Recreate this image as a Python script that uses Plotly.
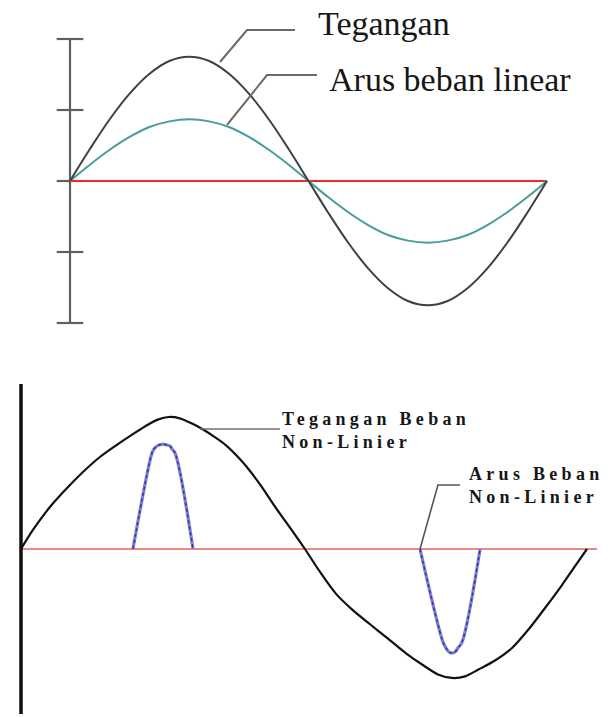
import plotly.graph_objects as go

# ---------------- data: linear load (upper panel) ----------------
# phase angle in degrees, sampled every 15 degrees
angle_lin = [0, 15, 30, 45, 60, 75, 90, 105, 120, 135, 150, 165, 180,
             195, 210, 225, 240, 255, 270, 285, 300, 315, 330, 345, 360]
tegangan = [0.0, 0.45, 0.87, 1.23, 1.51, 1.69, 1.75, 1.69, 1.51, 1.23, 0.87, 0.45, 0.0,
            -0.45, -0.87, -1.23, -1.51, -1.69, -1.75, -1.69, -1.51, -1.23, -0.87, -0.45, 0.0]
arus_linear = [0.0, 0.23, 0.44, 0.62, 0.76, 0.84, 0.87, 0.84, 0.76, 0.62, 0.44, 0.23, 0.0,
               -0.23, -0.44, -0.62, -0.76, -0.84, -0.87, -0.84, -0.76, -0.62, -0.44, -0.23, 0.0]
axis_ticks_lin = [-2, -1, 0, 1, 2]

# ---------------- data: non-linear load (lower panel) ----------------
angle_v_nl = [0, 7.6, 18.4, 29.3, 39.4, 50.2, 61.1, 71.2, 80.1, 87, 94, 101, 108.8,
              115.8, 123, 130.4, 141.2, 152.0, 162.2, 173.0, 180.6, 190.2, 200.4, 211.2,
              222.0, 233, 244.9, 255.1, 265.2, 274.1, 282.4, 290.7, 301.5, 312.3, 322.5,
              333.3, 344.1, 352.4, 360]
tegangan_nl = [0, 0.144, 0.318, 0.462, 0.583, 0.697, 0.790, 0.870, 0.938, 0.980, 1.0, 0.99, 0.950,
               0.905, 0.85, 0.785, 0.655, 0.49, 0.31, 0.13, 0, -0.174, -0.340, -0.465,
               -0.570, -0.675, -0.790, -0.875, -0.950, -0.977, -0.965, -0.915, -0.845, -0.750, -0.614,
               -0.447, -0.273, -0.130, 0]

angle_i_pos = [71.2, 83.3, 84.6, 86.5, 88.4, 90.3, 92.2, 94.8, 96.0, 98.0, 109.4]
arus_pos = [0, 0.727, 0.758, 0.780, 0.790, 0.795, 0.790, 0.780, 0.758, 0.727, 0]
angle_i_neg = [253.8, 268.4, 270.3, 272.2, 274.1, 276.0, 277.9, 280.5, 292.0]
arus_neg = [0, -0.705, -0.750, -0.780, -0.788, -0.780, -0.750, -0.705, 0]
axis_span_nl = [-1.25, 1.25]
zero_end_nl = 366.4

# ---------------- callouts ----------------
lead_teg_x, lead_teg_y = [113.2, 133.6, 169.8], [1.676, 2.127, 2.127]
lead_arus_x, lead_arus_y = [118.5, 148.7, 186.4], [0.789, 1.493, 1.493]
lead_teg_nl_x, lead_teg_nl_y = [113.9, 164.7], [0.909, 0.909]
lead_arus_nl_x, lead_arus_nl_y = [253.8, 265.2, 279.2], [0.0, 0.485, 0.485]

# ---------------- layout geometry (pixels of the 608 x 717 canvas) ----------------
W, H = 608, 717
SPLIT = 340                     # boundary between the two panels
# upper panel: origin pixel and scale
X0_T, PXDEG_T, Y0_T, PXU_T = 70, 477 / 360, 181, 71
# lower panel
X0_B, PXDEG_B, Y0_B, PXU_B = 21, 566 / 360, 549, 132

xr_top = [-X0_T / PXDEG_T, (W - X0_T) / PXDEG_T]
yr_top = [(Y0_T - SPLIT) / PXU_T, Y0_T / PXU_T]
xr_bot = [-X0_B / PXDEG_B, (W - X0_B) / PXDEG_B]
yr_bot = [(Y0_B - H) / PXU_B, (Y0_B - SPLIT) / PXU_B]

fig = go.Figure()

def line(x, y, color, width, xa="x", ya="y", dash=None, shape="linear", smoothing=1):
    ln = dict(color=color, width=width, dash=dash, shape=shape)
    if shape == "spline":
        ln["smoothing"] = smoothing
    fig.add_trace(go.Scatter(x=x, y=y, mode="lines", xaxis=xa, yaxis=ya, line=ln,
                             hoverinfo="skip", showlegend=False))

# ---- upper panel ----
line([0, 0], [axis_ticks_lin[0], axis_ticks_lin[-1]], "#5f5f5f", 2.2)
fig.add_trace(go.Scatter(x=[0] * len(axis_ticks_lin), y=axis_ticks_lin, mode="markers",
                         marker=dict(symbol="line-ew", size=19, color="#5f5f5f",
                                     line=dict(color="#5f5f5f", width=2.2)),
                         hoverinfo="skip", showlegend=False))
line([0, 360], [0, 0], "#ee2b2b", 2)
line(angle_lin, arus_linear, "#479c9c", 2, shape="spline")
line(angle_lin, tegangan, "#404040", 2, shape="spline")
line(lead_teg_x, lead_teg_y, "#6a6a6a", 2)
line(lead_arus_x, lead_arus_y, "#6a6a6a", 2)

# ---- lower panel ----
line([0, zero_end_nl], [0, 0], "#e58a84", 2, "x2", "y2")
line([0, 0], axis_span_nl, "#111111", 3.5, "x2", "y2")
for ax, ay in ((angle_i_pos, arus_pos), (angle_i_neg, arus_neg)):
    line(ax, ay, "#7b7be0", 3.2, "x2", "y2", shape="spline")
    line(ax, ay, "#3a3a70", 1.4, "x2", "y2", dash="3px,3px", shape="spline")
line(angle_v_nl, tegangan_nl, "#111111", 2.2, "x2", "y2", shape="spline", smoothing=0.8)
line(lead_teg_nl_x, lead_teg_nl_y, "#707070", 1.6, "x2", "y2")
line(lead_arus_nl_x, lead_arus_nl_y, "#555555", 1.6, "x2", "y2")

# ---- labels ----
serif = "Liberation Serif, Times New Roman, serif"
labels = [
    (["Tegangan"], 186.4, 2.225, "x", "y", 34, False),
    (["Arus beban linear"], 194.7, 1.423, "x", "y", 34, False),
    (["Tegangan Beban", "Non-Linier"], 165.4, 0.898, "x2", "y2", 18, True),
    (["Arus Beban", "Non-Linier"], 284.3, 0.481, "x2", "y2", 18, True),
]
for lines, ax, ay, xr, yr, fs, bold in labels:
    if bold:
        t = "<br>".join(f'<b><span style="letter-spacing:4.3px">{s}</span></b>' for s in lines)
    else:
        t = "<br>".join(lines)
    fig.add_annotation(text=t, x=ax, y=ay, xref=xr, yref=yr, xanchor="left", yanchor="middle",
                       align="left", showarrow=False, borderpad=0,
                       font=dict(family=serif, size=fs, color="#161616"))

hidden = dict(visible=False, fixedrange=True)
fig.update_layout(
    width=W, height=H, margin=dict(l=0, r=0, t=0, b=0),
    paper_bgcolor="white", plot_bgcolor="white", showlegend=False,
    xaxis=dict(domain=[0, 1], range=xr_top, anchor="y", **hidden),
    yaxis=dict(domain=[1 - SPLIT / H, 1], range=yr_top, anchor="x", **hidden),
    xaxis2=dict(domain=[0, 1], range=xr_bot, anchor="y2", **hidden),
    yaxis2=dict(domain=[0, 1 - SPLIT / H], range=yr_bot, anchor="x2", **hidden),
)

fig.write_html("out.html", config={"displayModeBar": False})
